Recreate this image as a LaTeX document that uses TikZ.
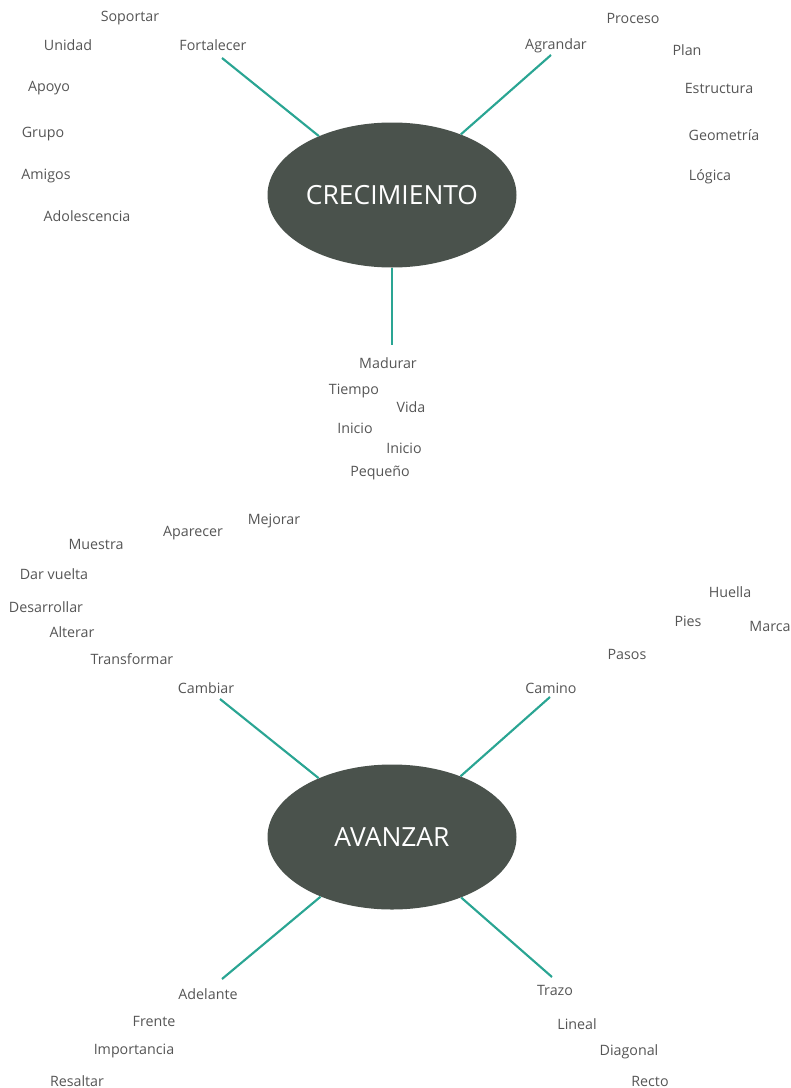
\documentclass[tikz,border=0pt]{standalone}
\usepackage{fontspec}
\setmainfont{Open Sans}
\usetikzlibrary{shapes.geometric}
\definecolor{hubfill}{HTML}{4A524C}
\definecolor{teal}{HTML}{2AA593}
\definecolor{wordgray}{HTML}{555555}
\tikzset{
  hub/.style={ellipse, fill=hubfill, text=white, inner sep=0pt,
    minimum width=186.75pt, minimum height=108.75pt, font=\fontsize{19.8pt}{22pt}\selectfont},
  word/.style={text=wordgray, font=\fontsize{10.7pt}{12pt}\selectfont, inner sep=0pt, anchor=center, yshift=-1pt},
  conn/.style={draw=teal, line width=1.6pt}
}
\begin{document}
\begin{tikzpicture}[x=0.75pt,y=-0.75pt]
\useasboundingbox (0,0) rectangle (791,1088);
% hubs
\node[hub] (crec) at (392,195) {CRECIMIENTO};
\node[hub] (avan) at (392,837) {AVANZAR};
% branch labels
\node[word] (fort) at (213,44) {Fortalecer};
\node[word] (agra) at (556,44) {Agrandar};
\node[word] (madu) at (388,362) {Madurar};
\node[word] (camb) at (206,687) {Cambiar};
\node[word] (cami) at (551,687) {Camino};
\node[word] (adel) at (208,993) {Adelante};
\node[word] (traz) at (555,989) {Trazo};
% connector ends
\coordinate (fortE) at (222,58);
\coordinate (agraE) at (551,55);
\coordinate (maduE) at (392,345);
\coordinate (cambE) at (220,699);
\coordinate (camiE) at (550,697);
\coordinate (adelE) at (222,979);
\coordinate (trazE) at (552,977);
% connectors
\draw[conn] (crec) -- (fortE);
\draw[conn] (crec) -- (agraE);
\draw[conn] (crec) -- (maduE);
\draw[conn] (avan) -- (cambE);
\draw[conn] (avan) -- (camiE);
\draw[conn] (avan) -- (adelE);
\draw[conn] (avan) -- (trazE);
% words top-left
\node[word] (w1) at (130,17) {Soportar};
\node[word] (w2) at (68,44) {Unidad};
\node[word] (w3) at (49,87) {Apoyo};
\node[word] (w4) at (43,133) {Grupo};
\node[word] (w5) at (46,175) {Amigos};
\node[word] (w6) at (87,215) {Adolescencia};
% top-right
\node[word] (w7) at (633,17) {Proceso};
\node[word] (w8) at (687,49) {Plan};
\node[word] (w9) at (719,87) {Estructura};
\node[word] (w10) at (724,134) {Geometría};
\node[word] (w11) at (710,175) {Lógica};
% middle
\node[word] (w12) at (354,390) {Tiempo};
\node[word] (w13) at (411,406) {Vida};
\node[word] (w14) at (355,427) {Inicio};
\node[word] (w15) at (404,447) {Inicio};
\node[word] (w16) at (380,472) {Pequeño};
% left middle
\node[word] (w17) at (274,520) {Mejorar};
\node[word] (w18) at (193,532) {Aparecer};
\node[word] (w19) at (96,543) {Muestra};
\node[word] (w20) at (54,573) {Dar vuelta};
\node[word] (w21) at (46,606) {Desarrollar};
\node[word] (w22) at (72,631) {Alterar};
\node[word] (w23) at (132,658) {Transformar};
% right middle
\node[word] (w24) at (730,591) {Huella};
\node[word] (w25) at (688,620) {Pies};
\node[word] (w26) at (770,625) {Marca};
\node[word] (w27) at (627,653) {Pasos};
% bottom
\node[word] (w28) at (154,1020) {Frente};
\node[word] (w29) at (134,1050) {Importancia};
\node[word] (w30) at (77,1080) {Resaltar};
\node[word] (w31) at (577,1023) {Lineal};
\node[word] (w32) at (629,1050) {Diagonal};
\node[word] (w33) at (650,1080) {Recto};
\end{tikzpicture}
\end{document}
